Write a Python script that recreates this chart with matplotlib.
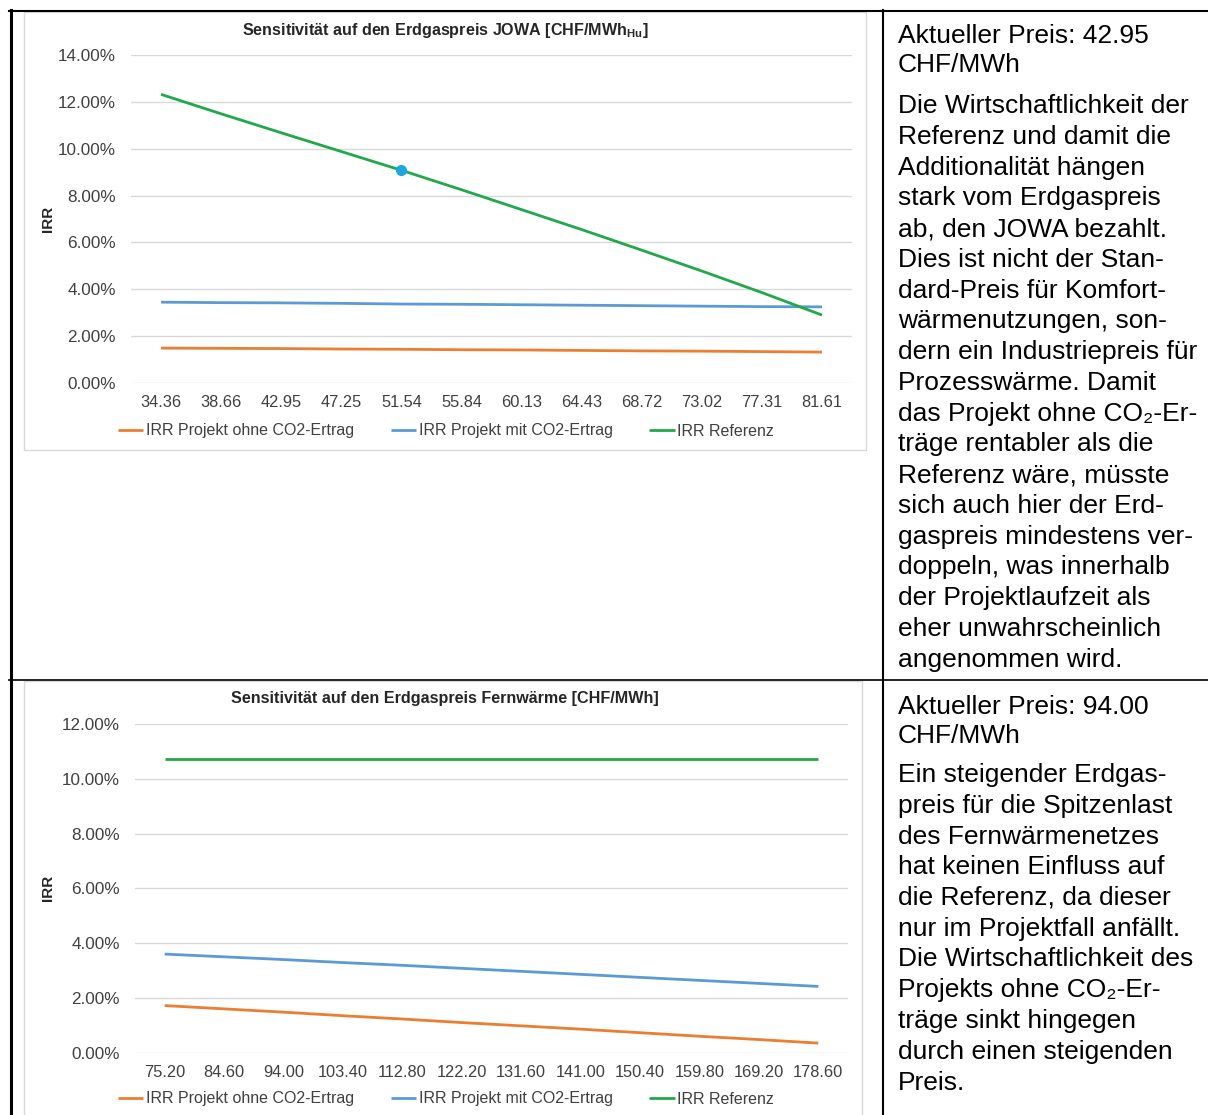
import numpy as np
import matplotlib
matplotlib.use('Agg')
import matplotlib.pyplot as plt
from matplotlib.lines import Line2D
from matplotlib.patches import Rectangle
from matplotlib.ticker import FuncFormatter

plt.rcParams['font.family'] = ['Liberation Sans', 'DejaVu Sans']
plt.rcParams['mathtext.fontset'] = 'custom'
plt.rcParams['mathtext.rm'] = 'Liberation Sans'
plt.rcParams['mathtext.bf'] = 'Liberation Sans:bold'

# --- data: JOWA gas price sensitivity (IRR in %)
price_jowa = ["34.36", "38.66", "42.95", "47.25", "51.54", "55.84",
              "60.13", "64.43", "68.72", "73.02", "77.31", "81.61"]
jowa_ohne = [1.49, 1.48, 1.47, 1.45, 1.44, 1.42, 1.41, 1.39, 1.37, 1.36, 1.34, 1.32]
jowa_mit = [3.45, 3.43, 3.42, 3.40, 3.37, 3.36, 3.34, 3.32, 3.30, 3.28, 3.26, 3.25]
jowa_ref = [12.32, 11.49, 10.68, 9.88, 9.08, 8.25, 7.40, 6.55, 5.67, 4.78, 3.86, 2.90]
jowa_current = 4  # highlighted point

# --- data: Fernwaerme gas price sensitivity (IRR in %)
price_fw = ["75.20", "84.60", "94.00", "103.40", "112.80", "122.20",
            "131.60", "141.00", "150.40", "159.80", "169.20", "178.60"]
fw_ohne = [1.72, 1.60, 1.48, 1.35, 1.23, 1.10, 0.98, 0.86, 0.73, 0.60, 0.48, 0.35]
fw_mit = [3.60, 3.50, 3.40, 3.29, 3.19, 3.08, 2.97, 2.86, 2.75, 2.64, 2.53, 2.42]
fw_ref = [10.72] * 12

labels = ["IRR Projekt ohne CO2-Ertrag", "IRR Projekt mit CO2-Ertrag", "IRR Referenz"]
colors = ["#ED7D31", "#5B9BD5", "#21A84A"]

text_top_head = ["Aktueller Preis: 42.95", "CHF/MWh"]
text_top_body = ["Die Wirtschaftlichkeit der", "Referenz und damit die",
                 "Additionalität hängen", "stark vom Erdgaspreis",
                 "ab, den JOWA bezahlt.", "Dies ist nicht der Stan-",
                 "dard-Preis für Komfort-", "wärmenutzungen, son-",
                 "dern ein Industriepreis für", "Prozesswärme. Damit",
                 "das Projekt ohne CO₂-Er-", "träge rentabler als die",
                 "Referenz wäre, müsste", "sich auch hier der Erd-",
                 "gaspreis mindestens ver-", "doppeln, was innerhalb",
                 "der Projektlaufzeit als", "eher unwahrscheinlich",
                 "angenommen wird."]
text_bot_head = ["Aktueller Preis: 94.00", "CHF/MWh"]
text_bot_body = ["Ein steigender Erdgas-", "preis für die Spitzenlast",
                 "des Fernwärmenetzes", "hat keinen Einfluss auf",
                 "die Referenz, da dieser", "nur im Projektfall anfällt.",
                 "Die Wirtschaftlichkeit des", "Projekts ohne CO₂-Er-",
                 "träge sinkt hingegen", "durch einen steigenden",
                 "Preis."]

W, H = 1208, 1115
fig = plt.figure(figsize=(W / 100, H / 100), dpi=100)


def fx(x):
    return x / W


def fy(y):
    return 1 - y / H


def chart(left, right, top, bottom, cats, series, ymax, title, title_y, legend_y, mark=None):
    ax = fig.add_axes([fx(left), fy(bottom), fx(right - left), fy(top) - fy(bottom)])
    x = np.arange(len(cats))
    for vals, c, lab in zip(series, colors, labels):
        ax.plot(x, np.array(vals) / 100, color=c, lw=2.0, label=lab, solid_capstyle='butt')
    if mark is not None:
        ax.plot(x[mark], series[2][mark] / 100, 'o', color='#1AA7E2', ms=7, zorder=5)
    ax.set_xlim(-0.5, len(cats) - 0.5)
    ax.set_ylim(0, ymax)
    ax.set_yticks(np.arange(0, ymax + 1e-9, 0.02))
    ax.yaxis.set_major_formatter(FuncFormatter(lambda v, p: f"{v * 100:.2f}%"))
    ax.set_xticks(x, cats)
    ax.grid(axis='y', color='#D9D9D9', lw=1)
    ax.set_axisbelow(True)
    for s in ax.spines.values():
        s.set_visible(False)
    ax.tick_params(axis='both', length=0, labelsize=11.8, colors='#404040')
    ax.tick_params(axis='y', labelsize=12.3, pad=11)
    ax.tick_params(axis='x', pad=9)
    fig.text(fx(445), fy(title_y), title, ha='center', va='center',
             fontsize=11.6, fontweight='bold', color='#262626')
    fig.text(fx(48), fy((top + bottom) / 2), "IRR", rotation=90, ha='center', va='center',
             fontsize=11, fontweight='bold', color='#262626')
    ax.legend(loc='center', bbox_to_anchor=(fx(446), fy(legend_y)), bbox_transform=fig.transFigure,
              ncol=3, frameon=False, fontsize=11.5, handlelength=1.6, handletextpad=0.15,
              columnspacing=2.3, labelcolor='#404040')
    return ax


chart(131, 852, 55, 383, price_jowa, [jowa_ohne, jowa_mit, jowa_ref], 0.14,
      r"Sensitivität auf den Erdgaspreis JOWA [CHF/MWh$_{\mathbf{Hu}}$]", 30, 431, mark=jowa_current)
chart(135, 848, 724, 1052.7, price_fw, [fw_ohne, fw_mit, fw_ref], 0.12,
      "Sensitivität auf den Erdgaspreis Fernwärme [CHF/MWh]", 698, 1099)

# chart frames
fig.patches.append(Rectangle((fx(24), fy(450)), fx(866 - 24), fy(12) - fy(450), transform=fig.transFigure,
                             fill=False, edgecolor='#D9D9D9', lw=1))
fig.patches.append(Rectangle((fx(24), fy(1120)), fx(862 - 24), fy(681) - fy(1120), transform=fig.transFigure,
                             fill=False, edgecolor='#D9D9D9', lw=1))

# table lines
fig.lines.append(Line2D([fx(9), fx(W)], [fy(10.5), fy(10.5)], transform=fig.transFigure, color='black', lw=1.5))
fig.lines.append(Line2D([fx(9), fx(W)], [fy(679.5), fy(679.5)], transform=fig.transFigure, color='black', lw=1.2))
fig.lines.append(Line2D([fx(10.5), fx(10.5)], [fy(10), fy(H)], transform=fig.transFigure, color='black', lw=2.2))
fig.lines.append(Line2D([fx(882.8), fx(882.8)], [fy(10), fy(H)], transform=fig.transFigure, color='black', lw=1.5))


def cell_text(head, body, y0, y_body, step=30.75):
    for i, line in enumerate(head):
        fig.text(fx(898), fy(y0 + i * 29), line, ha='left', va='baseline', fontsize=19, color='black')
    for i, line in enumerate(body):
        fig.text(fx(898), fy(y_body + i * step), line, ha='left', va='baseline', fontsize=19, color='black')


cell_text(text_top_head, text_top_body, 43, 113)
cell_text(text_bot_head, text_bot_body, 714, 782)

fig.savefig("out.png", dpi=100)
